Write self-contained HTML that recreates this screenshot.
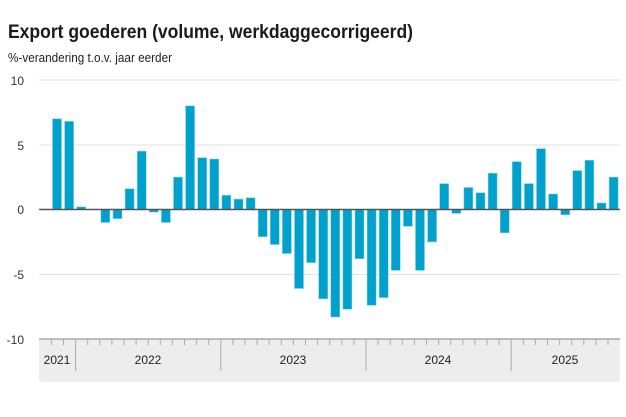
<!DOCTYPE html>
<html><head><meta charset="utf-8"><style>
html,body{margin:0;padding:0;background:#fff;}
svg{display:block;font-family:"Liberation Sans",sans-serif;}
</style></head><body>
<svg width="626" height="417" viewBox="0 0 626 417" xmlns="http://www.w3.org/2000/svg">
<text x="8" y="38" font-size="19" font-weight="bold" fill="#1a1a1a" textLength="405" lengthAdjust="spacingAndGlyphs">Export goederen (volume, werkdaggecorrigeerd)</text>
<text x="8" y="62" font-size="12.5" fill="#222" textLength="164" lengthAdjust="spacingAndGlyphs">%-verandering t.o.v. jaar eerder</text>
<g font-size="12" fill="#333" text-anchor="end">
<text x="24" y="85">10</text><text x="24" y="150">5</text><text x="24" y="214">0</text><text x="24" y="279">-5</text><text x="24" y="344">-10</text>
</g>
<g stroke="#e2e2e2" stroke-width="1">
<line x1="39" x2="620" y1="80" y2="80"/><line x1="39" x2="620" y1="145" y2="145"/><line x1="39" x2="620" y1="274.5" y2="274.5"/>
</g>
<path d="M39 339 H620 V378 Q620 382 616 382 H43 Q39 382 39 378 Z" fill="#ededed"/>
<line x1="39" x2="620" y1="339" y2="339" stroke="#999" stroke-width="1.2"/>
<g fill="#00a1cd" stroke="#7fd0e6" stroke-width="0.5">
<rect x="52.5" y="118.8" width="9" height="90.7"/>
<rect x="64.6" y="121.4" width="9" height="88.1"/>
<rect x="76.7" y="206.9" width="9" height="2.6"/>
<rect x="100.9" y="209.5" width="9" height="13"/>
<rect x="113.0" y="209.5" width="9" height="9.1"/>
<rect x="125.1" y="188.8" width="9" height="20.7"/>
<rect x="137.2" y="151.2" width="9" height="58.3"/>
<rect x="149.3" y="209.5" width="9" height="2.6"/>
<rect x="161.4" y="209.5" width="9" height="13"/>
<rect x="173.5" y="177.1" width="9" height="32.4"/>
<rect x="185.6" y="105.9" width="9" height="103.6"/>
<rect x="197.7" y="157.7" width="9" height="51.8"/>
<rect x="209.8" y="159" width="9" height="50.5"/>
<rect x="221.9" y="195.3" width="9" height="14.2"/>
<rect x="234.0" y="199.1" width="9" height="10.4"/>
<rect x="246.1" y="197.8" width="9" height="11.7"/>
<rect x="258.2" y="209.5" width="9" height="27.2"/>
<rect x="270.3" y="209.5" width="9" height="35"/>
<rect x="282.4" y="209.5" width="9" height="44"/>
<rect x="294.5" y="209.5" width="9" height="79"/>
<rect x="306.6" y="209.5" width="9" height="53.1"/>
<rect x="318.7" y="209.5" width="9" height="89.4"/>
<rect x="330.8" y="209.5" width="9" height="107.5"/>
<rect x="342.9" y="209.5" width="9" height="99.7"/>
<rect x="355.0" y="209.5" width="9" height="49.2"/>
<rect x="367.1" y="209.5" width="9" height="95.8"/>
<rect x="379.2" y="209.5" width="9" height="88.1"/>
<rect x="391.3" y="209.5" width="9" height="60.9"/>
<rect x="403.4" y="209.5" width="9" height="16.8"/>
<rect x="415.5" y="209.5" width="9" height="60.9"/>
<rect x="427.6" y="209.5" width="9" height="32.4"/>
<rect x="439.7" y="183.6" width="9" height="25.9"/>
<rect x="451.8" y="209.5" width="9" height="3.9"/>
<rect x="463.9" y="187.5" width="9" height="22"/>
<rect x="476.0" y="192.7" width="9" height="16.8"/>
<rect x="488.1" y="173.2" width="9" height="36.3"/>
<rect x="500.2" y="209.5" width="9" height="23.3"/>
<rect x="512.3" y="161.6" width="9" height="47.9"/>
<rect x="524.4" y="183.6" width="9" height="25.9"/>
<rect x="536.5" y="148.6" width="9" height="60.9"/>
<rect x="548.6" y="194" width="9" height="15.5"/>
<rect x="560.7" y="209.5" width="9" height="5.2"/>
<rect x="572.8" y="170.6" width="9" height="38.9"/>
<rect x="584.9" y="160.3" width="9" height="49.2"/>
<rect x="597.0" y="203" width="9" height="6.5"/>
<rect x="609.1" y="177.1" width="9" height="32.4"/>
</g>
<line x1="39" x2="620" y1="209.5" y2="209.5" stroke="#555" stroke-width="1.5"/>
<g stroke="#aaa" stroke-width="1">
<line x1="51.4" x2="51.4" y1="339" y2="345"/><line x1="63.5" x2="63.5" y1="339" y2="345"/>
<line x1="87.7" x2="87.7" y1="339" y2="345"/><line x1="99.8" x2="99.8" y1="339" y2="345"/><line x1="111.9" x2="111.9" y1="339" y2="345"/><line x1="124" x2="124" y1="339" y2="345"/><line x1="136.1" x2="136.1" y1="339" y2="345"/><line x1="148.2" x2="148.2" y1="339" y2="345"/><line x1="160.3" x2="160.3" y1="339" y2="345"/><line x1="172.4" x2="172.4" y1="339" y2="345"/><line x1="184.5" x2="184.5" y1="339" y2="345"/><line x1="196.6" x2="196.6" y1="339" y2="345"/><line x1="208.7" x2="208.7" y1="339" y2="345"/>
<line x1="232.9" x2="232.9" y1="339" y2="345"/><line x1="245" x2="245" y1="339" y2="345"/><line x1="257.1" x2="257.1" y1="339" y2="345"/><line x1="269.2" x2="269.2" y1="339" y2="345"/><line x1="281.3" x2="281.3" y1="339" y2="345"/><line x1="293.4" x2="293.4" y1="339" y2="345"/><line x1="305.5" x2="305.5" y1="339" y2="345"/><line x1="317.6" x2="317.6" y1="339" y2="345"/><line x1="329.7" x2="329.7" y1="339" y2="345"/><line x1="341.8" x2="341.8" y1="339" y2="345"/><line x1="353.9" x2="353.9" y1="339" y2="345"/>
<line x1="378.1" x2="378.1" y1="339" y2="345"/><line x1="390.2" x2="390.2" y1="339" y2="345"/><line x1="402.3" x2="402.3" y1="339" y2="345"/><line x1="414.4" x2="414.4" y1="339" y2="345"/><line x1="426.5" x2="426.5" y1="339" y2="345"/><line x1="438.6" x2="438.6" y1="339" y2="345"/><line x1="450.7" x2="450.7" y1="339" y2="345"/><line x1="462.8" x2="462.8" y1="339" y2="345"/><line x1="474.9" x2="474.9" y1="339" y2="345"/><line x1="487" x2="487" y1="339" y2="345"/><line x1="499.1" x2="499.1" y1="339" y2="345"/>
<line x1="523.3" x2="523.3" y1="339" y2="345"/><line x1="535.4" x2="535.4" y1="339" y2="345"/><line x1="547.5" x2="547.5" y1="339" y2="345"/><line x1="559.6" x2="559.6" y1="339" y2="345"/><line x1="571.7" x2="571.7" y1="339" y2="345"/><line x1="583.8" x2="583.8" y1="339" y2="345"/><line x1="595.9" x2="595.9" y1="339" y2="345"/><line x1="608" x2="608" y1="339" y2="345"/>
<line x1="75.6" x2="75.6" y1="339" y2="371"/><line x1="220.8" x2="220.8" y1="339" y2="371"/><line x1="366" x2="366" y1="339" y2="371"/><line x1="511.2" x2="511.2" y1="339" y2="371"/>
</g>
<g font-size="12" fill="#222" text-anchor="middle">
<text x="57" y="364">2021</text><text x="148" y="364">2022</text><text x="293" y="364">2023</text><text x="438" y="364">2024</text><text x="565" y="364">2025</text>
</g>
</svg>
</body></html>
